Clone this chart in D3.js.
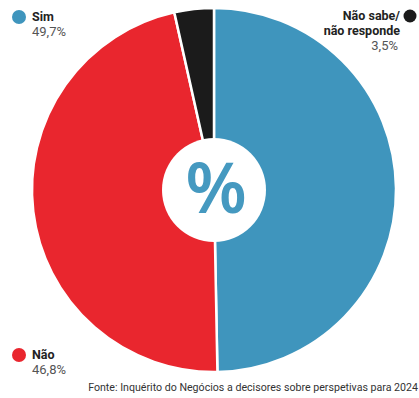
<!DOCTYPE html>
<html>
<head>
<meta charset="utf-8">
<script src="https://cdn.jsdelivr.net/npm/d3@7"></script>
<style>
  html, body { margin: 0; padding: 0; background: #fff; }
  svg { display: block; font-family: Roboto, "Noto Sans", sans-serif; }
</style>
</head>
<body>
<svg id="chart" width="419" height="398"></svg>
<script>
// Survey answers, in clockwise order starting at twelve o'clock
const categories = ["Sim", "Não", "Não sabe/ não responde"];
const values = [49.7, 46.8, 3.5];
const valueLabels = ["49,7%", "46,8%", "3,5%"];
const colors = ["#3f95bd", "#e9262e", "#1b1b1b"];
const source = "Fonte: Inquérito do Negócios a decisores sobre perspetivas para 2024";

const svg = d3.select("#chart");
const cx = 214, cy = 190, outerR = 182, holeR = 52;

const pie = d3.pie().sort(null).value(d => d)(values);
const arc = d3.arc().innerRadius(0).outerRadius(outerR);

const g = svg.append("g").attr("transform", `translate(${cx},${cy})`);
g.selectAll("path.slice")
  .data(pie)
  .join("path")
  .attr("class", "slice")
  .attr("d", arc)
  .attr("fill", (d, i) => colors[i])
  .attr("stroke", "#fff")
  .attr("stroke-width", 2.5)
  .attr("stroke-linejoin", "miter");

// White centre disc with the percent sign
g.append("circle").attr("r", holeR).attr("fill", "#fff");
g.append("text")
  .attr("text-anchor", "middle")
  .attr("x", 2)
  .attr("y", 23)
  .attr("fill", "#4599c0")
  .attr("font-family", "'Noto Sans', sans-serif")
  .attr("font-size", 70)
  .attr("font-weight", 600)
  .text("%");

// Legend entries
const nameColor = "#222", valColor = "#555", fs = 12.5;

function leftEntry(i, x, cyDot, base) {
  svg.append("circle").attr("cx", x).attr("cy", cyDot).attr("r", 7).attr("fill", colors[i]);
  svg.append("text").attr("x", x + 13).attr("y", base)
    .attr("font-size", fs).attr("font-weight", 700).attr("fill", nameColor)
    .text(categories[i]);
  svg.append("text").attr("x", x + 13).attr("y", base + 15)
    .attr("font-size", fs + 0.5).attr("fill", valColor)
    .text(valueLabels[i]);
}
leftEntry(0, 19, 17, 21);
leftEntry(1, 19, 355, 359);

// Right-aligned entry for the small slice
const parts = categories[2].split(" não ");
svg.append("circle").attr("cx", 410).attr("cy", 16).attr("r", 6.5).attr("fill", colors[2]);
svg.append("text").attr("x", 400).attr("y", 19.5).attr("text-anchor", "end")
  .attr("font-size", fs).attr("font-weight", 700).attr("fill", nameColor)
  .text(parts[0]);
svg.append("text").attr("x", 400).attr("y", 34.5).attr("text-anchor", "end")
  .attr("font-size", fs).attr("font-weight", 700).attr("fill", nameColor)
  .text("não " + parts[1]);
svg.append("text").attr("x", 398).attr("y", 49.5).attr("text-anchor", "end")
  .attr("font-size", fs + 0.5).attr("fill", valColor)
  .text(valueLabels[2]);

// Source line, sized to span the lower right of the graphic
const src = svg.append("text").attr("x", 418).attr("y", 391).attr("text-anchor", "end")
  .attr("font-size", 11).attr("fill", "#333")
  .text(source);
const w = src.node().getComputedTextLength();
src.attr("font-size", 11 * 330 / w);
</script>
</body>
</html>
